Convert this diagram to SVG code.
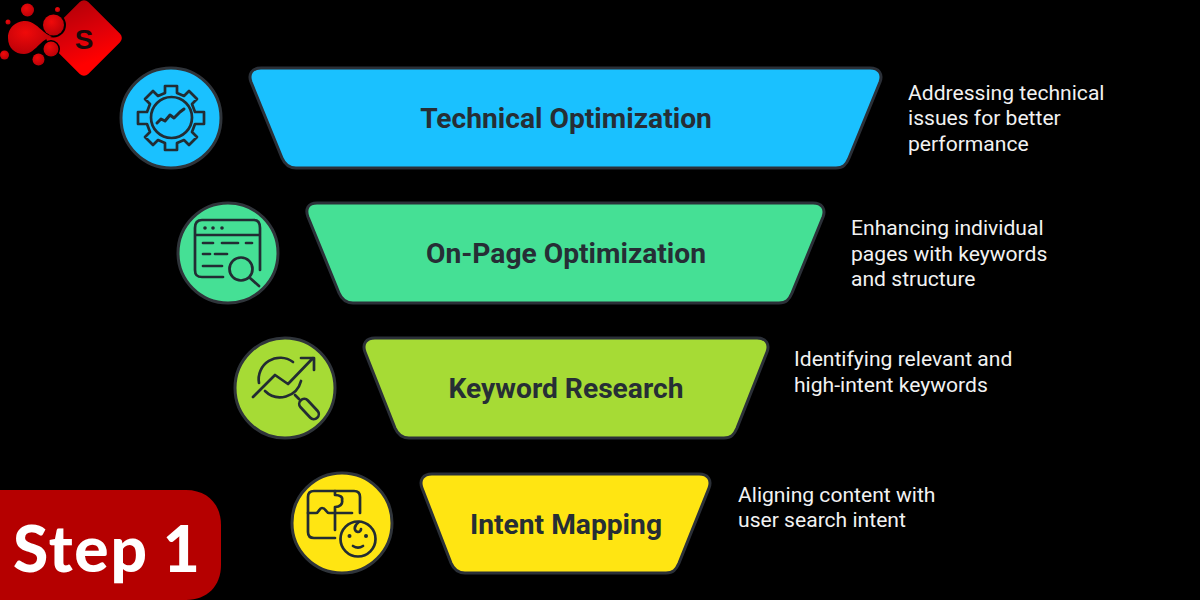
<svg xmlns="http://www.w3.org/2000/svg" width="1200" height="600" viewBox="0 0 1200 600">
<defs>
<linearGradient id="red" x1="0" y1="0" x2="1" y2="0.4"><stop offset="0" stop-color="#b50008"/><stop offset="0.6" stop-color="#e00008"/><stop offset="1" stop-color="#ff0000"/></linearGradient>
<radialGradient id="ball" cx="0.4" cy="0.35" r="0.7"><stop offset="0" stop-color="#f00a0a"/><stop offset="1" stop-color="#b80008"/></radialGradient>
</defs>
<style>
.band{stroke:#2b3038;stroke-width:3;stroke-linejoin:round}
.circ{stroke:#2f343a;stroke-width:3}
.ico{fill:none;stroke:#222c33;stroke-width:2.7;stroke-linecap:round;stroke-linejoin:round}
.title{font-family:Roboto,"Liberation Sans",sans-serif;font-weight:700;font-size:28.200px;fill:#262e35;text-anchor:middle}
.desc{font-family:Roboto,"Liberation Sans",sans-serif;font-size:21.100px;fill:#f2f2f2}
</style>
<rect width="1200" height="600" fill="#000"/>
<g id="connectors"/>
<g id="logo">
<rect x="55.500" y="9.500" width="57" height="57" rx="6" transform="rotate(45 84 38)" fill="url(#red)"/>
<circle cx="53.500" cy="25" r="12.500" fill="#000"/>
<circle cx="51" cy="49" r="9" fill="#000"/>
<path d="M8 38C8 26 18 21 25 21C33 21 38 27 44 32C48 35 50 36 52 36C48 38 44 40 40 44C35 49 30 54 24 54C15 54 8 48 8 38Z" fill="url(#ball)"/>
<circle cx="53.500" cy="25" r="10.500" fill="url(#ball)"/>
<circle cx="51" cy="49" r="7.500" fill="url(#ball)"/>
<circle cx="27.500" cy="10" r="6.500" fill="url(#ball)"/>
<circle cx="38.500" cy="59.500" r="6" fill="url(#ball)"/>
<circle cx="4.500" cy="55" r="4.500" fill="url(#ball)"/>
<circle cx="8" cy="22" r="2.500" fill="url(#ball)"/>
<circle cx="57.500" cy="9.500" r="2.500" fill="url(#ball)"/>
<text x="84" y="48.500" font-family="Liberation Sans,sans-serif" font-weight="700" font-size="28" fill="#1a0a0a" text-anchor="middle">S</text>
</g>
<g id="node-technical">
<path class="band" fill="#1ac1ff" d="M261 68H870C879 68 883 74 880 82L849 158C846 165 843 168 836 168H296C289 168 285 165 282 158L251 82C248 74 252 68 261 68Z"/>
<text class="title" x="566" y="128">Technical Optimization</text>
<circle class="circ" cx="171" cy="118" r="50" fill="#1ac1ff"/>
<g class="ico">
<circle cx="171.500" cy="117.500" r="20.500"/>
<path d="M165 86H177V93L184 96L189 91L197 99L192 104L195 112H204V124H195L192 132L197 137L189 145L184 140L177 143V150H165V143L158 140L153 145L145 137L150 132L147 124H138V112H147L150 104L145 99L153 91L158 96L165 93Z"/>
<path d="M157 123L161 119L165 121L170 115L174 118L180 112L184 109" stroke-width="3"/>
</g>
</g>
<g id="node-onpage">
<path class="band" fill="#45e095" d="M317 203H813C822 203 826 209 823 217L792 293C789 300 786 303 779 303H353C346 303 342 300 339 293L308 217C305 209 308 203 317 203Z"/>
<text class="title" x="566" y="263">On-Page Optimization</text>
<circle class="circ" cx="228" cy="253" r="50" fill="#45e095"/>
<g class="ico">
<path d="M223 277H202C197 277 195 275 195 270V228C195 223 197 220 202 220H254C258 220 260 223 260 228V270M195 235H260"/>
<path d="M203 243H213M222 243H238M246 243H252M203 254H210M215 254H227M203 266H222"/>
<circle cx="241" cy="269" r="11.500"/><path d="M250 278L259 286"/>
</g>
<g fill="#222c33"><circle cx="205" cy="228" r="1.800"/><circle cx="213" cy="228" r="1.800"/><circle cx="222" cy="228" r="1.800"/></g>
</g>
<g id="node-keyword">
<path class="band" fill="#a6db35" d="M375 338H757C766 338 770 344 767 352L737 428C734 435 731 438 724 438H409C402 438 398 435 395 428L365 352C362 344 366 338 375 338Z"/>
<text class="title" x="566" y="398">Keyword Research</text>
<circle class="circ" cx="285" cy="388" r="50" fill="#a6db35"/>
<g class="ico">
<path d="M259 383A21.500 21.500 0 0 1 293 362M301 381A21.500 21.500 0 0 1 265 391"/>
<path d="M253 397L275 375L288 384L313 358M301 358H314V370"/>
<rect x="297" y="404" width="24" height="10" rx="5" transform="rotate(47 309 409)"/>
<path d="M295 395L299 399"/>
</g>
</g>
<g id="node-intent">
<path class="band" fill="#ffe512" d="M432 474H699C708 474 712 480 709 488L679 563C676 570 673 573 666 573H465C458 573 454 570 451 563L422 488C419 480 423 474 432 474Z"/>
<text class="title" x="566" y="534">Intent Mapping</text>
<circle class="circ" cx="342" cy="523" r="50" fill="#ffe512"/>
<g class="ico">
<path d="M335 538H314C310 538 308 536 308 532V497C308 493 310 491 314 491H354C358 491 360 493 360 497V513"/>
<path d="M308 513H316C319 513 319 508 322 508C326 508 326 513 329 513H352M335 491V495C340 495 343 497 342 500C343 504 340 507 335 507V530"/>
<circle cx="358" cy="539" r="17.500"/><path d="M359 522C353 526 354 531 358 532C360 532 361 530 361 529M353 546C356 548 360 548 363 546"/>
</g>
<g fill="#222c33"><circle cx="349.500" cy="536" r="2"/><circle cx="366" cy="536" r="2"/></g>
</g>
<g id="text-descriptions">
<text class="desc" x="908" y="100">Addressing technical</text>
<text class="desc" x="908" y="125">issues for better</text>
<text class="desc" x="908" y="151">performance</text>
<text class="desc" x="851" y="235">Enhancing individual</text>
<text class="desc" x="851" y="261">pages with keywords</text>
<text class="desc" x="851" y="286">and structure</text>
<text class="desc" x="794" y="366">Identifying relevant and</text>
<text class="desc" x="794" y="392">high-intent keywords</text>
<text class="desc" x="738" y="502">Aligning content with</text>
<text class="desc" x="738" y="527">user search intent</text>
</g>
<g id="badge">
<path d="M0 490H186C207 490 221 504 221 525V565C221 586 207 600 186 600H0Z" fill="#b50000"/>
<text x="13" y="572" font-family="Lato,Noto Sans,sans-serif" font-weight="900" font-size="64" letter-spacing="1.800" word-spacing="-3" fill="#fff">Step 1</text>
</g>
</svg>
